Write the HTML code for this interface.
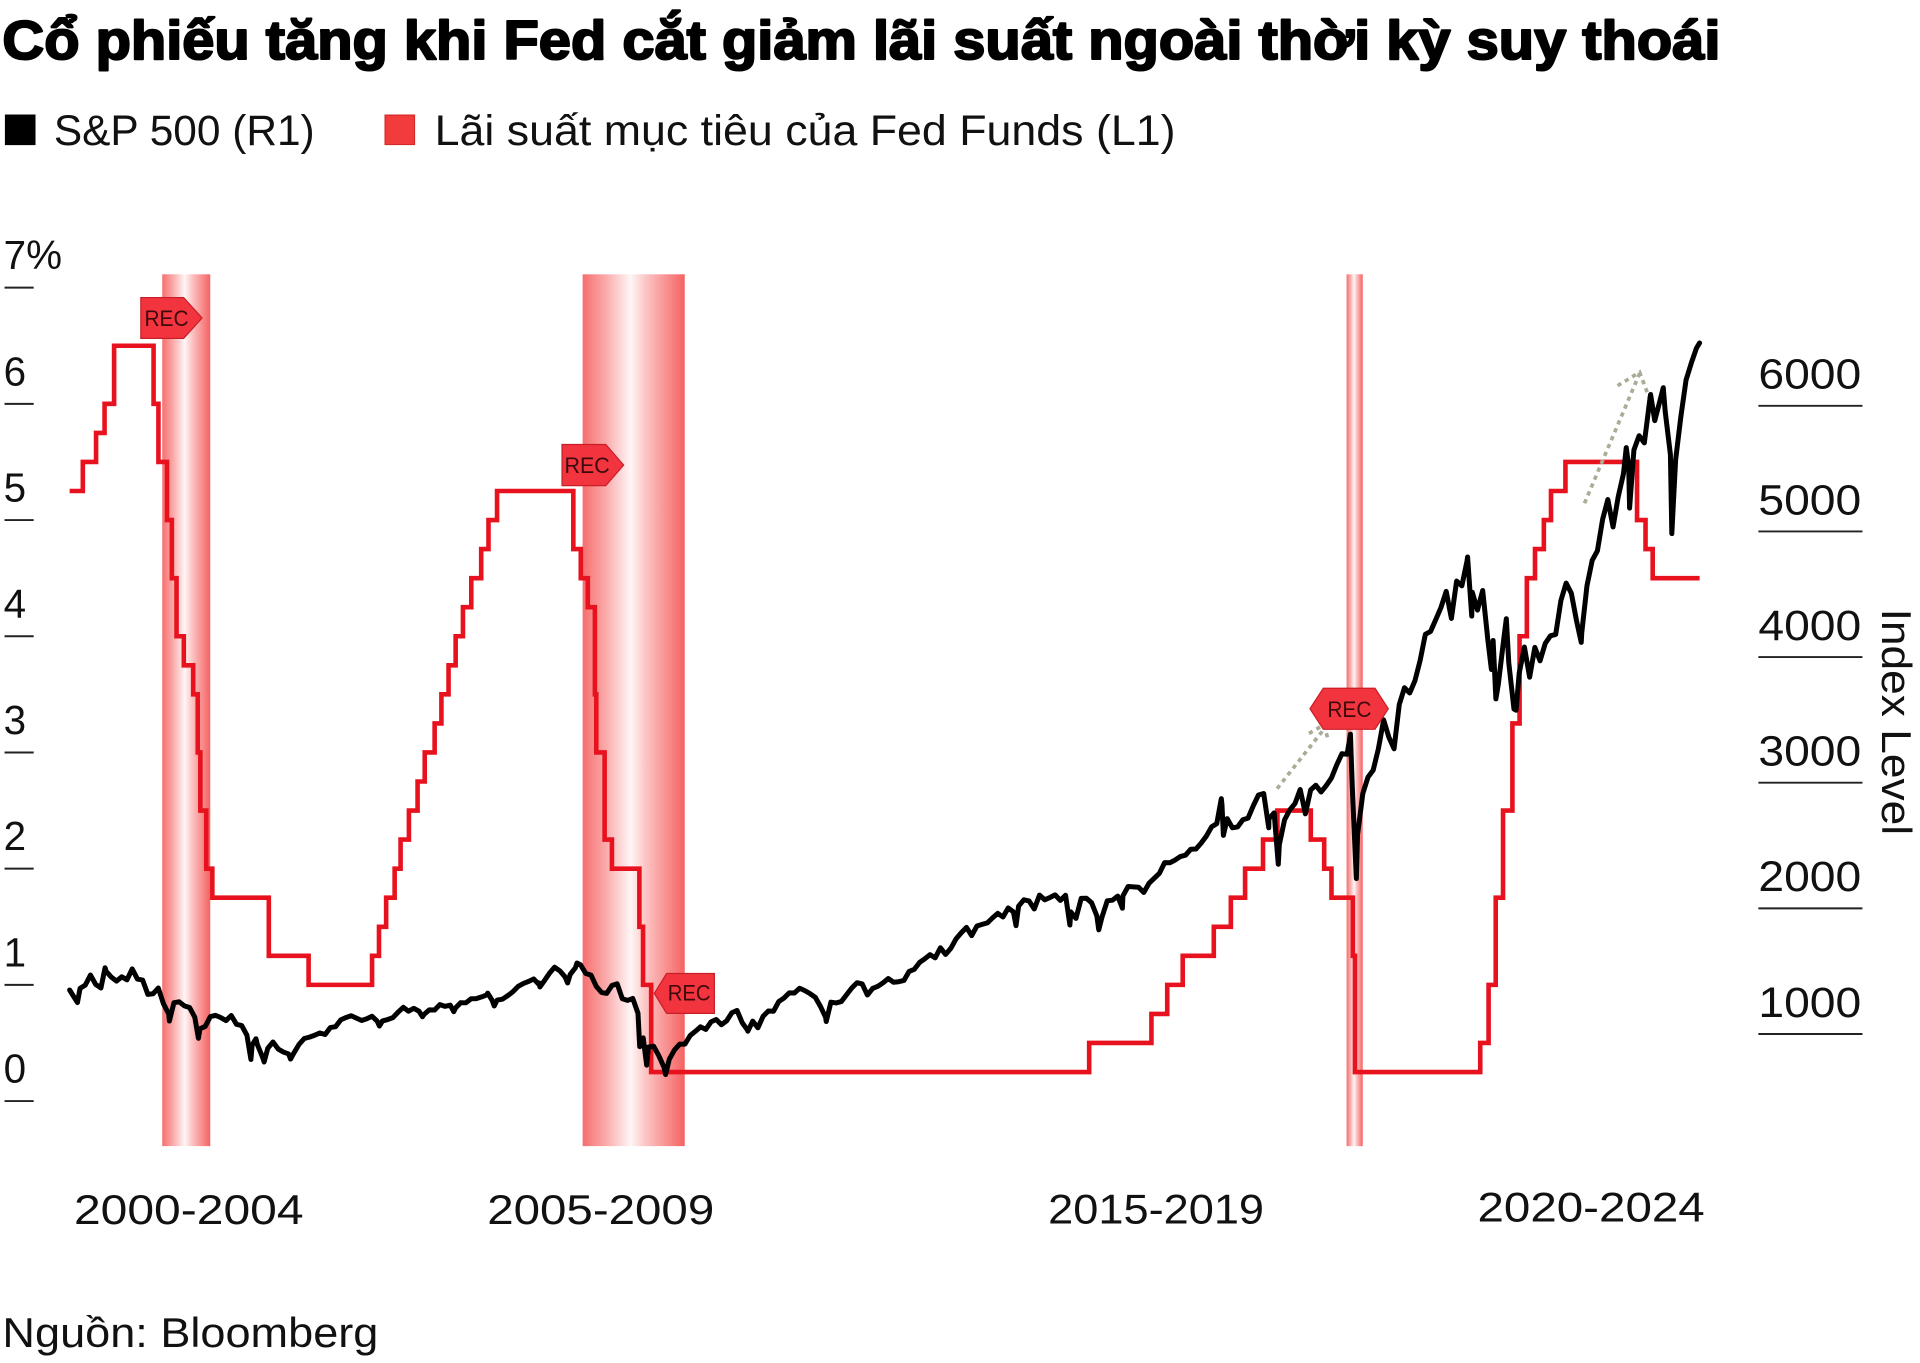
<!DOCTYPE html>
<html>
<head>
<meta charset="utf-8">
<style>
html,body{margin:0;padding:0;background:#fff;width:1920px;height:1363px;overflow:hidden}
svg{display:block}
text{font-family:"Liberation Sans","DejaVu Sans","Noto Sans CJK SC",sans-serif;}
</style>
</head>
<body>
<svg width="1920" height="1363" viewBox="0 0 1568 1113.1" xmlns="http://www.w3.org/2000/svg">
<defs>
<linearGradient id="rb" x1="0" x2="1" y1="0" y2="0">
<stop offset="0" stop-color="#f76f6f"/>
<stop offset="0.22" stop-color="#faa8a8"/>
<stop offset="0.47" stop-color="#fff6f6"/>
<stop offset="0.62" stop-color="#fcc4c4"/>
<stop offset="1" stop-color="#f66262"/>
</linearGradient>
</defs>
<rect x="0" y="0" width="1568" height="1113.1" fill="#fff"/>

<!-- Title -->
<text x="2" y="48" font-size="45" font-weight="bold" fill="#000" stroke="#000" stroke-width="1.7" stroke-linejoin="round" textLength="1403" lengthAdjust="spacingAndGlyphs">Cổ phiếu tăng khi Fed cắt giảm lãi suất ngoài thời kỳ suy thoái</text>

<!-- Legend -->
<rect x="4" y="93.5" width="25" height="25" fill="#000"/>
<text x="44" y="118.4" font-size="35" fill="#111" textLength="213" lengthAdjust="spacingAndGlyphs">S&amp;P 500 (R1)</text>
<rect x="314.5" y="94" width="24" height="24" fill="#f23c3c" stroke="#d42a2a" stroke-width="1"/>
<text x="355" y="118.4" font-size="35" fill="#111" textLength="605" lengthAdjust="spacingAndGlyphs">Lãi suất mục tiêu của Fed Funds (L1)</text>

<!-- Recession bands -->
<rect x="132.5" y="224" width="39.2" height="712" fill="url(#rb)"/>
<rect x="475.8" y="224" width="83.4" height="712" fill="url(#rb)"/>
<rect x="1099.7" y="224" width="13.2" height="712" fill="url(#rb)"/>

<!-- Left axis -->
<g stroke="#222" stroke-width="1.6">
<line x1="3.7" x2="27.5" y1="234.9" y2="234.9"/>
<line x1="3.7" x2="27.5" y1="329.8" y2="329.8"/>
<line x1="3.7" x2="27.5" y1="424.7" y2="424.7"/>
<line x1="3.7" x2="27.5" y1="519.6" y2="519.6"/>
<line x1="3.7" x2="27.5" y1="614.5" y2="614.5"/>
<line x1="3.7" x2="27.5" y1="709.4" y2="709.4"/>
<line x1="3.7" x2="27.5" y1="804.3" y2="804.3"/>
<line x1="3.7" x2="27.5" y1="899.2" y2="899.2"/>
</g>
<g font-size="33" fill="#111">
<text x="3" y="219.8">7%</text>
<text x="3" y="314.7">6</text>
<text x="3" y="409.6">5</text>
<text x="3" y="504.5">4</text>
<text x="3" y="599.4">3</text>
<text x="3" y="694.3">2</text>
<text x="3" y="789.2">1</text>
<text x="3" y="884.1">0</text>
</g>

<!-- Right axis -->
<g stroke="#222" stroke-width="1.6">
<line x1="1436" x2="1521" y1="331.4" y2="331.4"/>
<line x1="1436" x2="1521" y1="434" y2="434"/>
<line x1="1436" x2="1521" y1="536.6" y2="536.6"/>
<line x1="1436" x2="1521" y1="639.2" y2="639.2"/>
<line x1="1436" x2="1521" y1="741.8" y2="741.8"/>
<line x1="1436" x2="1521" y1="844.4" y2="844.4"/>
</g>
<g font-size="35" fill="#111">
<text x="1436" y="317.4" textLength="84" lengthAdjust="spacingAndGlyphs">6000</text>
<text x="1436" y="420" textLength="84" lengthAdjust="spacingAndGlyphs">5000</text>
<text x="1436" y="522.6" textLength="84" lengthAdjust="spacingAndGlyphs">4000</text>
<text x="1436" y="625.2" textLength="84" lengthAdjust="spacingAndGlyphs">3000</text>
<text x="1436" y="727.8" textLength="84" lengthAdjust="spacingAndGlyphs">2000</text>
<text x="1436" y="830.4" textLength="84" lengthAdjust="spacingAndGlyphs">1000</text>
</g>
<text transform="translate(1537,497) rotate(90)" x="0" y="0" font-size="34" fill="#111" textLength="185" lengthAdjust="spacingAndGlyphs">Index Level</text>

<!-- X labels -->
<g font-size="34" fill="#111">
<text x="60.4" y="999.8" textLength="187.5" lengthAdjust="spacingAndGlyphs">2000-2004</text>
<text x="397.9" y="999.8" textLength="185.4" lengthAdjust="spacingAndGlyphs">2005-2009</text>
<text x="856" y="999" textLength="176.3" lengthAdjust="spacingAndGlyphs">2015-2019</text>
<text x="1206.6" y="997.7" textLength="185.6" lengthAdjust="spacingAndGlyphs">2020-2024</text>
</g>

<!-- Source -->
<text x="2" y="1100" font-size="34" fill="#111" textLength="307" lengthAdjust="spacingAndGlyphs">Nguồn: Bloomberg</text>

<!-- Fed funds (red step) -->
<path transform="matrix(4.2583 0 0 -94.9 22.8 899.2)" vector-effect="non-scaling-stroke" fill="none" stroke="#e8121f" stroke-width="4.6" stroke-linejoin="miter" stroke-linecap="butt"
d="M8 5.25 H10.53 V5.5 H13.07 V5.75 H14.7 V6 H16.53 V6.5 H24.1 V6 H25.03 V5.5 H26.67 V5 H27.6 V4.5 H28.5 V4 H29.9 V3.75 H31.7 V3.5 H32.57 V3 H33.07 V2.5 H34.2 V2 H35.37 V1.75 H46.2 V1.25 H53.83 V1 H66 V1.25 H67.33 V1.5 H68.7 V1.75 H70.33 V2 H71.47 V2.25 H73.07 V2.5 H74.73 V2.75 H76.1 V3 H78 V3.25 H79.3 V3.5 H80.67 V3.75 H82.03 V4 H83.43 V4.25 H85.03 V4.5 H86.93 V4.75 H88.33 V5 H89.97 V5.25 H104.6 V4.75 H106.03 V4.5 H107.37 V4.25 H108.73 V3.5 H109 V3 H110.6 V2.25 H112 V2 H117.27 V1.5 H117.97 V1 H119.53 V0.25 H203.53 V0.5 H215.47 V0.75 H218.5 V1 H221.47 V1.25 H227.43 V1.5 H230.7 V1.75 H233.43 V2 H236.87 V2.25 H239.63 V2.5 H246.03 V2.25 H248.6 V2 H250 V1.75 H254.1 V1.25 H254.5 V0.25 H278.53 V0.5 H280.13 V1 H281.5 V1.75 H282.9 V2.5 H284.7 V3.25 H286.07 V4 H287.47 V4.5 H289.03 V4.75 H290.73 V5 H292.1 V5.25 H294.87 V5.5 H308.6 V5 H310.23 V4.75 H311.6 V4.5 H320.6"/>

<!-- Dotted arrows -->
<g fill="none" stroke="#a9ad95" stroke-width="3" stroke-dasharray="3.5 3.5">
<path d="M1043 644 L1080 597"/>
<path d="M1069 599 L1081 592 L1085 605"/>
<path d="M1294 411 L1339 305"/>
<path d="M1321 315 L1339 304 L1347 325"/>
</g>

<!-- S&P 500 (black) -->
<path transform="matrix(4.2583 0 0 -0.1026 22.8 947)" vector-effect="non-scaling-stroke" fill="none" stroke="#000" stroke-width="5" stroke-linejoin="round" stroke-linecap="round"
d="M8 1350 L9 1283 9.5 1250 10 1363 11 1389 12 1469 13 1394 14 1366 14.8 1527 15 1499 16 1452 17 1421 18 1455 19 1431 20 1518 21 1437 22 1429 23 1315 24 1320 25 1366 26 1240 27 1160 27.13 1103 28 1249 29 1256 30 1224 31 1211 32 1134 32.7 966 33 1041 34 1060 35 1139 36 1148 37 1130 38 1107 39 1147 40 1077 41 1067 42 990 42.77 797 43 912 43.73 962 44 916 45 815 45.3 777 46 886 47 936 48 880 49 856 50 841 50.37 800 51 848 52 917 53 964 54 975 55 990 56 1008 57 996 58 1051 59 1058 60 1112 61 1131 62 1145 63 1126 64 1107 65 1121 66 1141 67 1101 67.4 1063 68 1104 69 1115 70 1130 71 1174 72 1212 73 1181 74 1204 75 1181 75.67 1137 76 1157 77 1192 78 1191 79 1234 80 1220 81 1229 81.67 1177 82 1207 83 1249 84 1248 85 1280 86 1281 87 1295 88 1311 88.17 1325 89 1270 89.43 1223 90 1270 91 1277 92 1304 93 1336 94 1378 95 1401 96 1418 97 1438 97.9 1399 98 1407 98.2 1374 99 1421 100 1482 101 1531 102 1503 103 1455 103.5 1406 104 1474 105 1527 105.3 1565 106 1549 107 1481 108 1468 109 1379 110 1331 111 1323 112 1386 113 1400 114 1280 115 1267 116 1283 117 1165 117.33 899 118 969 118.67 752 119 896 120 903 121 826 122 735 122.3 677 123 798 124 873 125 919 126 919 127 987 128 1021 129 1057 130 1036 131 1096 132 1115 133 1074 134 1104 135 1169 136 1187 137 1089 138 1031 138.07 1022 139 1102 140 1049 141 1141 142 1183 143 1181 144 1258 145 1286 146 1327 147 1326 148 1364 149 1345 150 1321 151 1292 152 1219 153 1131 153.1 1099 154 1253 155 1247 156 1258 157 1312 158 1366 159 1408 160 1398 161 1310 162 1362 163 1379 164 1407 165 1441 166 1412 167 1416 168 1426 169 1498 170 1515 171 1569 172 1598 173 1631 174 1606 175 1686 176 1633 177 1682 178 1757 179 1806 180 1848 181 1783 182 1859 183 1872 184 1884 185 1924 186 1960 187 1931 188 2003 189 1972 189.5 1862 190 2018 191 2068 192 2059 193 1995 194 2105 195 2068 196 2086 197 2107 198 2063 199 2104 199.83 1867 200 1972 201 1920 202 2079 203 2080 204 2044 205 1940 205.37 1829 206 1932 207 2060 208 2065 209 2097 209.9 2001 210 2099 211 2174 212 2171 213 2168 214 2126 215 2199 216 2239 217 2279 218 2364 219 2363 220 2384 221 2412 222 2423 223 2470 224 2472 225 2519 226 2575 227 2648 228 2674 228.87 2873 229 2824 229.27 2581 230 2714 231 2641 232 2648 233 2705 234 2718 235 2816 236 2902 237 2914 237.97 2641 238 2712 239 2760 239.8 2351 240 2507 241 2704 242 2784 243 2834 244 2946 245 2752 246 2942 247 2980 248 2926 249 2977 250 3038 251 3141 252 3231 253 3226 253.63 3386 254 2954 254.77 2237 255 2585 256 2912 257 3044 258 3100 259 3271 260 3500 261 3363 262 3270 263 3622 264 3756 265 3714 266 3811 267 3973 268 4181 269 4204 270 4298 271 4395 272 4523 273 4308 274 4605 275 4567 276 4766 276.1 4797 276.9 4326 277 4516 278 4374 279 4530 280 4132 280.67 3901 281 4132 281.53 3667 282 3785 283 4130 283.53 4305 284 3955 285 3586 285.4 3577 286 3872 287 4080 288 3840 289 4077 290 3970 291 4109 292 4169 293 4180 294 4450 295 4589 296 4508 297 4288 297.9 4117 298 4194 299 4568 300 4770 301 4846 302 5096 303 5254 304 5036 305 5278 306 5460 306.53 5667 307 5522 307.17 5186 308 5648 309 5762 310 5705 311 6032 311.2 6090 312 5882 313 6041 313.63 6144 314 5955 315 5612 315.27 4983 316 5569 317 5912 318 6205 319 6339 320 6460 320.6 6500"/>

<!-- REC labels -->
<g fill="#f2343e" stroke="#c81e28" stroke-width="1">
<polygon points="115,243 150,243 165,259.7 150,276.3 115,276.3"/>
<polygon points="459,363 494.7,363 509.3,379.8 494.7,396.6 459,396.6"/>
<polygon points="534.4,811.2 544.4,795 583.4,795 583.4,827.6 544.4,827.6"/>
<polygon points="1069.8,578.8 1080.7,562.1 1122.9,562.1 1133.8,578.8 1122.9,595.6 1080.7,595.6"/>
</g>
<g font-size="18" fill="#3d0a0c">
<text x="118" y="266.4" textLength="36" lengthAdjust="spacingAndGlyphs">REC</text>
<text x="461" y="386.2" textLength="37" lengthAdjust="spacingAndGlyphs">REC</text>
<text x="545.3" y="817" textLength="35" lengthAdjust="spacingAndGlyphs">REC</text>
<text x="1084" y="585.6" textLength="36" lengthAdjust="spacingAndGlyphs">REC</text>
</g>
</svg>
</body>
</html>
